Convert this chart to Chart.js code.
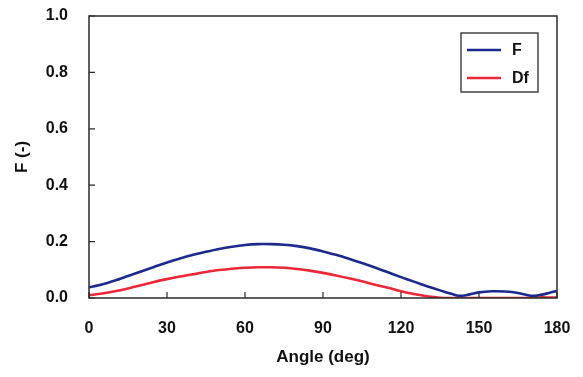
<!DOCTYPE html>
<html>
<head>
<meta charset="utf-8">
<script src="https://cdn.jsdelivr.net/npm/chart.js@4/dist/chart.umd.min.js"></script>
<style>
  html, body { margin: 0; padding: 0; background: #fff; }
  #wrap { width: 583px; height: 377px; position: relative; }
</style>
</head>
<body>
<div id="wrap"><canvas id="c" width="583" height="377"></canvas></div>
<script>
// Angles (deg) at which the two factors were sampled
const angles = [0, 5, 10, 15, 20, 25, 30, 35, 40, 45, 50, 55, 60, 65, 70, 75, 80, 85, 90,
  95, 100, 105, 110, 115, 120, 125, 130, 135, 140, 142, 145, 150, 155, 160, 165, 170, 173, 177, 180];

// F values
const fValues = [0.038, 0.048, 0.062, 0.078, 0.094, 0.110, 0.126, 0.140, 0.153, 0.164, 0.174, 0.182,
  0.188, 0.191, 0.191, 0.189, 0.184, 0.176, 0.165, 0.153, 0.139, 0.124, 0.108, 0.091, 0.074,
  0.058, 0.042, 0.027, 0.013, 0.008, 0.010, 0.020, 0.024, 0.023, 0.018, 0.008, 0.010, 0.018, 0.025];

// Df values
const dfValues = [0.010, 0.016, 0.024, 0.034, 0.045, 0.057, 0.067, 0.076, 0.084, 0.092, 0.099, 0.104,
  0.107, 0.109, 0.109, 0.107, 0.103, 0.097, 0.089, 0.080, 0.070, 0.059, 0.047, 0.036, 0.024,
  0.014, 0.006, 0.001, 0.000, 0.000, 0.000, 0.000, 0.000, 0.000, 0.000, 0.001, 0.002, 0.002, 0.002];

const seriesNames = ['F', 'Df'];
const xTicks = [0, 30, 60, 90, 120, 150, 180];
const yTicks = [0, 0.2, 0.4, 0.6, 0.8, 1.0];

const FONT = 'Liberation Sans, Arial, sans-serif';
const AXIS_COLOR = '#2a2a2a';

const toPoints = vals => angles.map((a, i) => ({ x: a, y: vals[i] }));

// Box around the plot area, inward tick marks, and the framed legend
const framePlugin = {
  id: 'frame',
  afterDatasetsDraw(chart) {
    const { ctx, chartArea: ca, scales } = chart;
    ctx.save();
    ctx.strokeStyle = AXIS_COLOR;
    ctx.lineWidth = 1.5;
    ctx.strokeRect(ca.left, ca.top, ca.right - ca.left, ca.bottom - ca.top);

    ctx.lineWidth = 1.2;
    ctx.beginPath();
    scales.x.ticks.forEach(t => {
      const px = scales.x.getPixelForValue(t.value);
      ctx.moveTo(px, ca.bottom);
      ctx.lineTo(px, ca.bottom - 6);
    });
    scales.y.ticks.forEach(t => {
      const py = scales.y.getPixelForValue(t.value);
      ctx.moveTo(ca.left, py);
      ctx.lineTo(ca.left + 6, py);
    });
    ctx.stroke();

    // legend
    const lx = 461, ly = 33, lw = 77, lh = 59;
    ctx.fillStyle = '#fff';
    ctx.fillRect(lx, ly, lw, lh);
    ctx.strokeStyle = AXIS_COLOR;
    ctx.lineWidth = 1.3;
    ctx.strokeRect(lx, ly, lw, lh);
    ctx.font = 'bold 16px ' + FONT;
    ctx.textBaseline = 'middle';
    ctx.textAlign = 'left';
    chart.data.datasets.forEach((ds, i) => {
      const y = ly + 17 + i * 28;
      ctx.strokeStyle = ds.borderColor;
      ctx.lineWidth = 2.5;
      ctx.beginPath();
      ctx.moveTo(lx + 6, y);
      ctx.lineTo(lx + 40, y);
      ctx.stroke();
      ctx.fillStyle = '#111';
      ctx.fillText(ds.label, lx + 51, y + 1);
    });
    ctx.restore();
  }
};

new Chart(document.getElementById('c'), {
  type: 'line',
  data: {
    datasets: [
      { label: seriesNames[0], data: toPoints(fValues), borderColor: '#1c2a8e', borderWidth: 2.6,
        pointRadius: 0, tension: 0.3, fill: false },
      { label: seriesNames[1], data: toPoints(dfValues), borderColor: '#ec2838', borderWidth: 2.6,
        pointRadius: 0, tension: 0.3, fill: false }
    ]
  },
  options: {
    responsive: false,
    animation: false,
    layout: { padding: { top: 16, right: 26, left: 0, bottom: 0 } },
    plugins: { legend: { display: false }, tooltip: { enabled: false } },
    scales: {
      x: {
        type: 'linear', min: 0, max: 180,
        afterBuildTicks: s => { s.ticks = xTicks.map(v => ({ value: v })); },
        afterFit: s => { s.height = 79; s.paddingLeft = 0; s.paddingRight = 0; },
        grid: { display: false, drawTicks: false },
        border: { display: false },
        ticks: { color: '#111', font: { family: FONT, size: 16, weight: 'bold' }, padding: 21, maxRotation: 0 },
        title: { display: true, text: 'Angle (deg)', color: '#111',
          font: { family: FONT, size: 17, weight: 'bold' }, padding: { top: 8, bottom: 9 } }
      },
      y: {
        type: 'linear', min: 0, max: 1.0,
        afterBuildTicks: s => { s.ticks = yTicks.map(v => ({ value: v })); },
        afterFit: s => { s.width = 89; s.paddingTop = 0; s.paddingBottom = 0; },
        grid: { display: false, drawTicks: false },
        border: { display: false },
        ticks: { color: '#111', font: { family: FONT, size: 16, weight: 'bold' }, padding: 21,
          callback: v => v.toFixed(1) },
        title: { display: true, text: 'F (-)', color: '#111',
          font: { family: FONT, size: 17, weight: 'bold' }, padding: { top: 12, bottom: 4 } }
      }
    }
  },
  plugins: [framePlugin]
});
</script>
</body>
</html>
